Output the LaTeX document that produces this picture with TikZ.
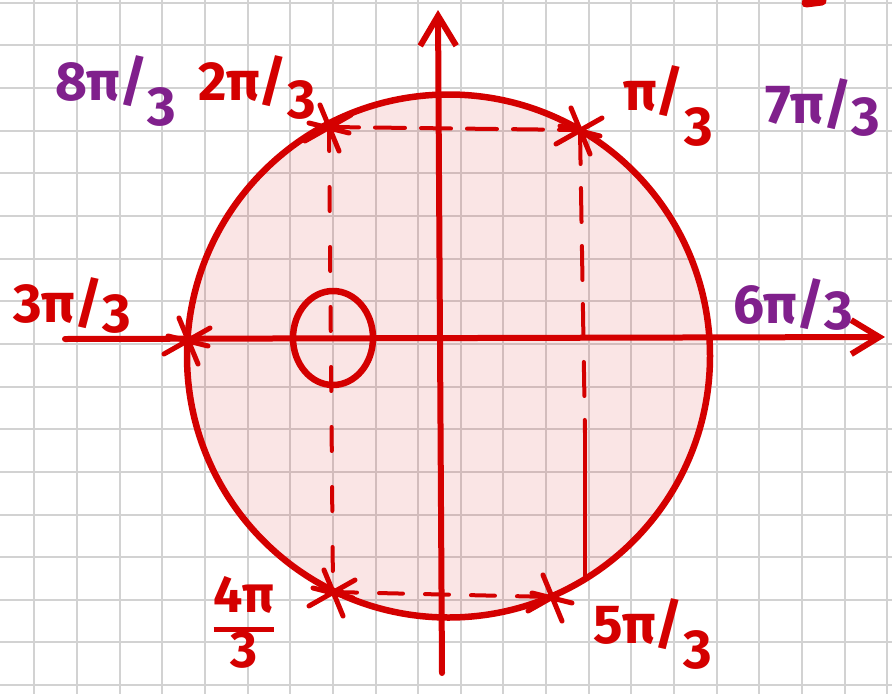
\documentclass[tikz,border=0pt]{standalone}
\usepackage{fontspec}
\setmainfont{Fira Sans}
\usetikzlibrary{arrows.meta}
\definecolor{inkred}{RGB}{212,0,0}
\definecolor{inkpurple}{RGB}{128,32,140}
\definecolor{gridgray}{RGB}{210,210,210}
\begin{document}
\begin{tikzpicture}[x=1pt,y=-1pt,
 gridline/.style={draw=gridgray, line width=2pt},
 redline/.style={draw=inkred, line width=6.5pt, line cap=round, line join=round},
 dashline/.style={draw=inkred, line width=4pt, line cap=round},
 lbl/.style={inner sep=0pt, anchor=base west, font=\fontsize{55}{55}\selectfont\bfseries},
 redlbl/.style={lbl, text=inkred},
 purlbl/.style={lbl, text=inkpurple},
 crossmk/.pic={\draw[draw=inkred, line width=5pt, line cap=round] (-9,-22) -- (10,24) (-24,14) -- (22,-12) (-20,-4) -- (20,6);}
]
\useasboundingbox (0,0) rectangle (892,694);
\fill[white] (0,0) rectangle (892,694);
\foreach \k in {0,...,20} \draw[gridline] ({34.3+42.65*\k},0) -- ({34.3+42.65*\k},694);
\foreach \k in {0,...,16} \draw[gridline] (0,{2.7+42.65*\k}) -- (892,{2.7+42.65*\k});

% unit circle
\coordinate (C) at (448.5,356);
\fill[inkred, fill opacity=0.1] (C) circle[radius=261.5];

% points on the circle
\coordinate (P1) at (580,130);
\coordinate (P2) at (329,127);
\coordinate (P3) at (188,340);
\coordinate (P4) at (333,592);
\coordinate (P5) at (552,597);
\coordinate (RS) at (585,433);
\coordinate (RE) at (585,577);

% dashed projections
\draw[dashline, dash pattern=on 30pt off 16pt] (P2) -- (P1);
\draw[dashline, dash pattern=on 24pt off 36pt] (P2) -- (P4);
\draw[dashline, dash pattern=on 34pt off 24pt] (P1) -- (RS);
\draw[dashline] (RS) -- (RE);
\draw[dashline, dash pattern=on 24pt off 22pt] (P4) -- (P5);

\draw[redline] (C) circle[radius=261.5];

% axes
\coordinate (XL) at (65,339);
\coordinate (XR) at (885,337);
\coordinate (YB) at (442,673);
\coordinate (YT) at (438,10);
\draw[redline, line width=6pt, -{Straight Barb[length=28pt,width=34pt]}] (XL) -- (XR);
\draw[redline, line width=6pt, -{Straight Barb[length=30pt,width=36pt]}] (YB) -- (YT);

% small circle
\draw[redline] (333,338) ellipse[x radius=40, y radius=47];

% marks
\foreach \p in {P1,P2,P3,P4,P5} \pic at (\p) {crossmk};

% stray stroke at the top
\draw[redline, line width=9pt] (806,3) -- (822,1);

% labels
\node[purlbl] (l8) at (55,100) {8π/\raisebox{-25pt}{3}};
\node[redlbl] (l2) at (198,100) {2π/\raisebox{-18pt}{3}};
\node[redlbl] (l1) at (623,110) {π/\raisebox{-35pt}{3}};
\node[purlbl] (l7) at (765,123) {7π/\raisebox{-12pt}{3}};
\node[purlbl] (l6) at (733,323) {6π/\raisebox{-6pt}{3}};
\node[redlbl] (l3) at (13,322) {3π/\raisebox{-10pt}{3}};
\node[redlbl] (l5) at (593,643) {5π/\raisebox{-25pt}{3}};
\node[redlbl, anchor=north, font=\fontsize{52}{52}\selectfont\bfseries] (l4) at (244,576)
  {\setlength\arrayrulewidth{5pt}\renewcommand\arraystretch{0.95}\begin{tabular}{@{}c@{}}4π\\\hline 3\end{tabular}};
\end{tikzpicture}
\end{document}
